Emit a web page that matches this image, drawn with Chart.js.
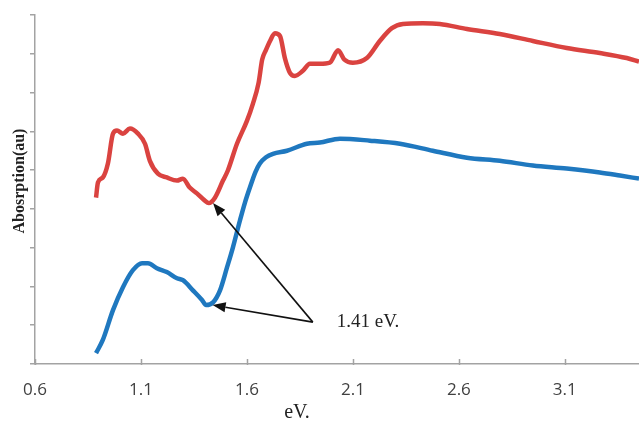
<!DOCTYPE html>
<html>
<head>
<meta charset="utf-8">
<script src="https://cdn.jsdelivr.net/npm/chart.js@4/dist/chart.umd.min.js"></script>
<style>
  html, body { margin: 0; padding: 0; background: #ffffff; }
  #wrap { width: 639px; height: 422px; position: relative; }
</style>
</head>
<body>
<div id="wrap"><canvas id="c" width="639" height="422"></canvas></div>
<script>
// ---- data ----
const redX = [0.888,0.897,0.92,0.944,0.968,0.987,1.015,1.048,1.086,1.119,1.142,1.18,1.222,1.27,1.298,1.33,1.364,1.40,1.42,1.449,1.487,1.51,1.553,1.60,1.628,1.655,1.672,1.69,1.709,1.732,1.756,1.779,1.803,1.826,1.864,1.897,1.944,1.991,2.03,2.06,2.10,2.166,2.227,2.284,2.336,2.43,2.51,2.638,2.793,2.949,3.109,3.265,3.392,3.45];
const redY = [4.29,4.68,4.81,5.17,5.94,6.02,5.94,6.07,5.94,5.68,5.24,4.91,4.81,4.73,4.78,4.55,4.40,4.22,4.15,4.29,4.73,4.99,5.68,6.27,6.71,7.25,7.85,8.10,8.33,8.53,8.46,7.89,7.51,7.43,7.56,7.74,7.74,7.77,8.09,7.85,7.77,7.89,8.33,8.66,8.77,8.79,8.77,8.64,8.51,8.33,8.15,8.02,7.89,7.80];

const blueX = [0.888,0.92,0.968,1.015,1.062,1.105,1.133,1.175,1.222,1.27,1.298,1.345,1.388,1.407,1.44,1.473,1.506,1.534,1.567,1.59,1.614,1.64,1.661,1.69,1.723,1.789,1.883,1.944,2.039,2.18,2.322,2.477,2.638,2.793,2.949,3.109,3.265,3.36,3.45];
const blueY = [0.28,0.62,1.39,1.98,2.42,2.60,2.60,2.47,2.37,2.21,2.16,1.90,1.65,1.52,1.59,1.90,2.49,3.01,3.70,4.15,4.55,4.95,5.17,5.33,5.42,5.50,5.68,5.71,5.81,5.76,5.68,5.50,5.32,5.24,5.12,5.04,4.94,4.86,4.78];

const xTicks = [0.6, 1.1, 1.6, 2.1, 2.6, 3.1];
const yTicks = [0,1,2,3,4,5,6,7,8,9];

const xTitle = "eV.";
const yTitle = "Abosrption(au)";
const annotationText = "1.41 eV.";
const arrowStart = [1.911, 1.08];
const arrowEnds = [[1.44, 4.15], [1.438, 1.52]];

// ---- build ----
const toPts = (xs, ys) => xs.map((x, i) => ({x: x, y: ys[i]}));

const axisGray = '#a3a3a3';

const decorPlugin = {
  id: 'decor',
  afterDraw(chart) {
    const ctx = chart.ctx;
    const xs = chart.scales.x, ys = chart.scales.y;
    const area = chart.chartArea;
    ctx.save();
    // inward x tick marks
    ctx.strokeStyle = axisGray;
    ctx.lineWidth = 1.5;
    xTicks.forEach(v => {
      const px = Math.round(xs.getPixelForValue(v)) + 0.5;
      ctx.beginPath();
      ctx.moveTo(px, area.bottom - 5);
      ctx.lineTo(px, area.bottom + 1);
      ctx.stroke();
    });
    // arrows
    const sx = xs.getPixelForValue(arrowStart[0]);
    const sy = ys.getPixelForValue(arrowStart[1]);
    ctx.strokeStyle = '#111';
    ctx.fillStyle = '#111';
    ctx.lineWidth = 1.6;
    arrowEnds.forEach(e => {
      const ex = xs.getPixelForValue(e[0]);
      const ey = ys.getPixelForValue(e[1]);
      const ang = Math.atan2(ey - sy, ex - sx);
      const hl = 13, hw = 5;
      const bx = ex - hl * Math.cos(ang), by = ey - hl * Math.sin(ang);
      ctx.beginPath();
      ctx.moveTo(sx, sy);
      ctx.lineTo(bx, by);
      ctx.stroke();
      ctx.beginPath();
      ctx.moveTo(ex, ey);
      ctx.lineTo(bx + hw * Math.sin(ang), by - hw * Math.cos(ang));
      ctx.lineTo(bx - hw * Math.sin(ang), by + hw * Math.cos(ang));
      ctx.closePath();
      ctx.fill();
    });
    // annotation text
    ctx.fillStyle = '#222';
    ctx.font = '19px "Liberation Serif", "Times New Roman", serif';
    ctx.textAlign = 'left';
    ctx.textBaseline = 'middle';
    ctx.fillText(annotationText, sx + 24, sy);
    // axis titles
    ctx.font = '20px "Liberation Serif", "Times New Roman", serif';
    ctx.textAlign = 'center';
    ctx.textBaseline = 'middle';
    ctx.fillText(xTitle, 297, 413);
    ctx.save();
    ctx.translate(20, 181);
    ctx.rotate(-Math.PI / 2);
    ctx.font = 'bold 16px "Liberation Serif", "Times New Roman", serif';
    ctx.fillText(yTitle, 0, 0);
    ctx.restore();
    ctx.restore();
  }
};

new Chart(document.getElementById('c'), {
  type: 'line',
  data: {
    datasets: [
      {
        data: toPts(redX, redY),
        borderColor: '#da4340',
        borderWidth: 4.5,
        pointRadius: 0,
        cubicInterpolationMode: 'monotone',
        fill: false
      },
      {
        data: toPts(blueX, blueY),
        borderColor: '#1f78bf',
        borderWidth: 4.5,
        pointRadius: 0,
        cubicInterpolationMode: 'monotone',
        fill: false
      }
    ]
  },
  options: {
    responsive: false,
    devicePixelRatio: 1,
    animation: false,
    layout: { padding: { top: 15, right: 0, left: 0, bottom: 0 } },
    plugins: { legend: { display: false }, tooltip: { enabled: false } },
    scales: {
      x: {
        type: 'linear',
        min: 0.6,
        max: 3.45,
        afterBuildTicks: s => { s.ticks = xTicks.map(v => ({ value: v })); },
        afterFit: s => { s.height = 58; },
        border: { color: axisGray, width: 1.5 },
        grid: { drawOnChartArea: false, drawTicks: false },
        ticks: {
          padding: 16,
          color: '#404040',
          font: { family: '"Open Sans", sans-serif', size: 17 },
          maxRotation: 0,
          callback: v => v.toFixed(1)
        }
      },
      y: {
        type: 'linear',
        min: 0,
        max: 9,
        afterBuildTicks: s => { s.ticks = yTicks.map(v => ({ value: v })); },
        afterFit: s => { s.width = 35; },
        border: { color: axisGray, width: 1.5 },
        grid: { drawOnChartArea: false, drawTicks: true, tickLength: 5, color: axisGray, lineWidth: 1.5 },
        ticks: { display: false }
      }
    }
  },
  plugins: [decorPlugin]
});
</script>
</body>
</html>
